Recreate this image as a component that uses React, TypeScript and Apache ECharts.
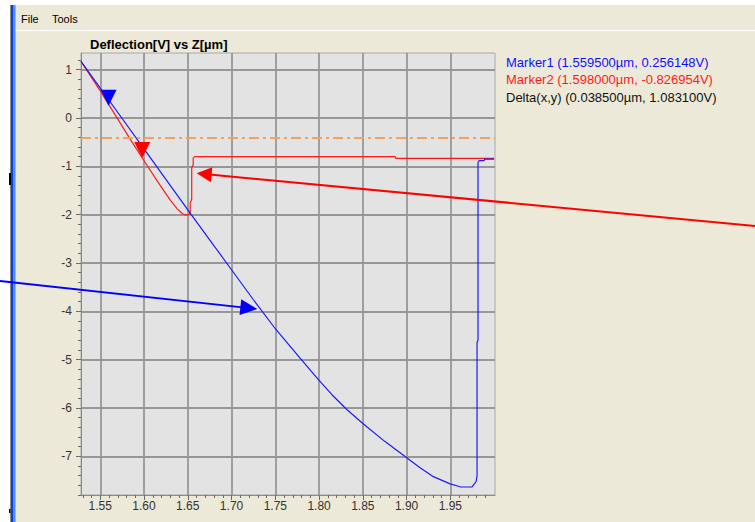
import React, { useEffect, useRef } from "react";
import * as echarts from "echarts";

// ---- axis ranges / ticks ----
const X_MIN = 1.528;
const X_MAX = 2.001;
const Y_MIN = -7.8;
const Y_MAX = 1.345;
const xMajorTicks = [1.55, 1.6, 1.65, 1.7, 1.75, 1.8, 1.85, 1.9, 1.95];
const yMajorTicks = [1, 0, -1, -2, -3, -4, -5, -6, -7];

// ---- series data (Z [µm], Deflection [V]) ----
const blueCurve: [number, number][] = [
  [1.528, 1.17], [1.55, 0.62], [1.575, -0.01], [1.6, -0.64], [1.625, -1.27],
  [1.654, -2.0], [1.675, -2.52], [1.7, -3.14], [1.725, -3.76], [1.75, -4.36],
  [1.7783, -4.97], [1.8, -5.43], [1.815, -5.73], [1.8317, -6.03], [1.85, -6.32],
  [1.875, -6.69], [1.8994, -7.02], [1.915, -7.23], [1.9306, -7.42], [1.9497, -7.57],
  [1.9611, -7.63], [1.9745, -7.635], [1.9794, -7.525], [1.9805, -7.4],
  [1.9805, -4.64], [1.9816, -4.6], [1.9816, -0.92], [1.983, -0.88], [1.9886, -0.88],
  [1.989, -0.85], [2.0, -0.85],
];
const redCurve: [number, number][] = [
  [1.528, 1.17], [1.55, 0.56], [1.586, -0.49], [1.598, -0.827], [1.615, -1.3],
  [1.63, -1.7], [1.638, -1.88], [1.644, -1.98], [1.648, -2.01], [1.651, -2.0],
  [1.6528, -1.95], [1.6528, -1.76], [1.6545, -1.68], [1.6545, -1.02], [1.6562, -0.97],
  [1.6562, -0.83], [1.658, -0.8], [1.887, -0.8], [1.8875, -0.835], [2.0, -0.835],
];
const marker1: [number, number] = [1.5595, 0.256148];
const marker2: [number, number] = [1.598, -0.826954];
const thresholdY = -0.41;
const legendLines = [
  { text: "Marker1 (1.559500µm, 0.256148V)", color: "#1010ff" },
  { text: "Marker2 (1.598000µm, -0.826954V)", color: "#ff1a1a" },
  { text: "Delta(x,y) (0.038500µm, 1.083100V)", color: "#111111" },
];

const FONT = "Liberation Sans, Arial, sans-serif";

function minorValues(from: number, to: number, div: number, skipEvery: number) {
  const out: number[] = [];
  for (let k = from; k <= to; k++) {
    if (k % skipEvery !== 0) out.push(k / div);
  }
  return out;
}

function arrow(tail: [number, number], tip: [number, number], len: number, half: number, color: string) {
  const dx = tip[0] - tail[0];
  const dy = tip[1] - tail[1];
  const d = Math.sqrt(dx * dx + dy * dy);
  const ux = dx / d, uy = dy / d;
  const bx = tip[0] - ux * len, by = tip[1] - uy * len;
  const nx = -uy, ny = ux;
  return [
    {
      type: "line", z: 100, silent: true,
      shape: { x1: tail[0], y1: tail[1], x2: bx + ux * 2, y2: by + uy * 2 },
      style: { stroke: color, lineWidth: 2 },
    },
    {
      type: "polygon", z: 100, silent: true,
      shape: { points: [[tip[0], tip[1]], [bx + nx * half, by + ny * half], [bx - nx * half, by - ny * half]] },
      style: { fill: color },
    },
  ];
}

export default function App() {
  const ref = useRef<HTMLDivElement>(null);
  useEffect(() => {
    if (!ref.current) return;
    const chart = echarts.init(ref.current, null, { renderer: "svg" });
    const xMinor = minorValues(153, 199, 100, 5);
    const yMinor = minorValues(-39, 6, 5, 5);
    const tri = "path://M0,0L14,0L7,14Z";

    const graphic: any[] = [
      { type: "rect", z: 1, shape: { x: 0, y: 0, width: 755, height: 5 }, style: { fill: "#ffffff" } },
      { type: "rect", z: 1, shape: { x: 0, y: 0, width: 10, height: 522 }, style: { fill: "#ffffff" } },
      { type: "rect", z: 2, shape: { x: 10, y: 5, width: 1, height: 517 }, style: { fill: "#8a8a8a" } },
      { type: "rect", z: 2, shape: { x: 11, y: 5, width: 2.5, height: 517 }, style: { fill: "#0a3ee8" } },
      { type: "rect", z: 2, shape: { x: 13.5, y: 5, width: 2, height: 517 }, style: { fill: "#4a8cf5" } },
      { type: "rect", z: 3, shape: { x: 9, y: 173, width: 2, height: 12 }, style: { fill: "#000000" } },
      { type: "rect", z: 3, shape: { x: 9, y: 509, width: 1.5, height: 4 }, style: { fill: "#000000" } },
      { type: "rect", z: 2, shape: { x: 15.5, y: 30, width: 740, height: 1 }, style: { fill: "#ffffff" } },
      { type: "text", z: 3, x: 21, y: 19, style: { text: "File", fill: "#000", font: `11px ${FONT}`, verticalAlign: "middle" } },
      { type: "text", z: 3, x: 52, y: 19, style: { text: "Tools", fill: "#000", font: `11px ${FONT}`, verticalAlign: "middle" } },
      ...legendLines.map((l, i) => ({
        type: "text", z: 3, x: 506, y: 62 + i * 17.6,
        style: { text: l.text, fill: l.color, font: `13px ${FONT}`, verticalAlign: "middle" },
      })),
      ...arrow([755, 226], [196.7, 173.3], 15, 7.5, "#ff0000"),
      ...arrow([0, 281], [257.3, 309], 17, 8, "#0000ff"),
    ];

    const baseX = { type: "value", min: X_MIN, max: X_MAX, position: "bottom" };
    const baseY = { type: "value", min: Y_MIN, max: Y_MAX, position: "left" };

    chart.setOption({
      animation: false,
      backgroundColor: "#ece9d8",
      title: {
        text: "Deflection[V] vs Z[µm]",
        left: 90, top: 38, padding: 0,
        textStyle: { fontFamily: FONT, fontSize: 13, fontWeight: "bold", color: "#000" },
      },
      grid: {
        left: 81, top: 53, right: 260, bottom: 27,
        show: true, backgroundColor: "#e3e3e3", borderColor: "#a8a8a8", borderWidth: 1,
      },
      xAxis: [
        {
          ...baseX,
          minInterval: 0.05, maxInterval: 0.05,
          axisLine: { show: true, onZero: false, lineStyle: { color: "#8a8a8a", width: 1 } },
          axisTick: { show: true, length: 5, customValues: xMajorTicks, lineStyle: { color: "#6a6a6a" } },
          axisLabel: {
            show: true, margin: 5, customValues: xMajorTicks, color: "#333",
            fontFamily: FONT, fontSize: 12, formatter: (v: number) => v.toFixed(2),
          },
          splitLine: { show: true, lineStyle: { color: "#979797", width: 1.8 } },
        },
        {
          ...baseX,
          axisLine: { show: false, onZero: false },
          axisTick: { show: true, length: 3, customValues: xMinor, lineStyle: { color: "#6a6a6a" } },
          axisLabel: { show: false },
          splitLine: { show: false },
        },
      ],
      yAxis: [
        {
          ...baseY,
          minInterval: 1, maxInterval: 1,
          axisLine: { show: true, onZero: false, lineStyle: { color: "#8a8a8a", width: 1 } },
          axisTick: { show: true, length: 5, customValues: yMajorTicks, lineStyle: { color: "#6a6a6a" } },
          axisLabel: {
            show: true, margin: 9, customValues: yMajorTicks, color: "#333",
            fontFamily: FONT, fontSize: 12, formatter: (v: number) => String(Math.round(v)),
          },
          splitLine: { show: true, lineStyle: { color: "#979797", width: 1.8 } },
        },
        {
          ...baseY,
          axisLine: { show: false, onZero: false },
          axisTick: { show: true, length: 3, customValues: yMinor, lineStyle: { color: "#6a6a6a" } },
          axisLabel: { show: false },
          splitLine: { show: false },
        },
      ],
      series: [
        {
          type: "line", name: "retract", data: redCurve, xAxisIndex: 0, yAxisIndex: 0,
          symbol: "none", z: 3,
          lineStyle: { color: "#ff1a1a", width: 1.2 },
          markPoint: {
            silent: true,
            data: [{ coord: marker2, symbol: tri, symbolSize: [16, 16], symbolOffset: [0, "-50%"] }],
            itemStyle: { color: "#ff0000" },
            label: { show: false },
          },
        },
        {
          type: "line", name: "approach", data: blueCurve, xAxisIndex: 0, yAxisIndex: 0,
          symbol: "none", z: 4,
          lineStyle: { color: "#1a1aff", width: 1.2 },
          markPoint: {
            silent: true,
            data: [{ coord: marker1, symbol: tri, symbolSize: [16, 16], symbolOffset: [0, "-50%"] }],
            itemStyle: { color: "#0000ff" },
            label: { show: false },
          },
          markLine: {
            silent: true, symbol: ["none", "none"], label: { show: false },
            data: [{ yAxis: thresholdY }],
            lineStyle: { color: "#f2a25c", width: 2, type: [10, 4, 3, 4] },
          },
        },
      ],
      graphic,
    });
    return () => chart.dispose();
  }, []);
  return <div ref={ref} style={{ position: "fixed", left: 0, top: 0, width: 755, height: 522 }} />;
}
